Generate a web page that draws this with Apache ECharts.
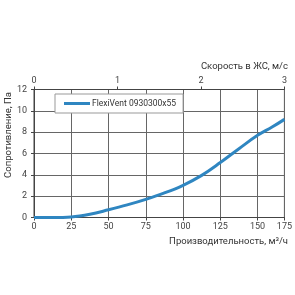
<!DOCTYPE html>
<html>
<head>
<meta charset="utf-8">
<script src="https://cdn.jsdelivr.net/npm/echarts@6/dist/echarts.min.js"></script>
<style>html,body{margin:0;padding:0;background:#fff}#c{width:295px;height:295px}</style>
</head>
<body>
<div id="c"></div>
<script>
// Flow axis (in plotted axis units) and pressure loss
var flow = [0, 12.5, 25, 37.5, 50, 62.5, 75, 87.5, 100, 112.5, 125, 137.5, 150, 160, 168];
var pressure = [0, 0, 0.05, 0.3, 0.72, 1.18, 1.7, 2.3, 3.02, 3.95, 5.15, 6.45, 7.7, 8.5, 9.2];
var seriesName = 'FlexiVent 0930300x55';
var flowTickLabels = ['0', '25', '50', '75', '100', '125', '150', '175'];
var speedTickLabels = ['0', '1', '2', '3'];
var pressureTickLabels = ['0', '2', '4', '6', '8', '10', '12'];
var flowAxisName = 'Производительность, м³/ч';
var speedAxisName = 'Скорость в ЖС, м/с';
var pressureAxisName = 'Сопротивление, Па';

var font = "Roboto, 'Open Sans', sans-serif";
var data = flow.map(function (f, i) { return [f, pressure[i]]; });
var chart = echarts.init(document.getElementById('c'), null, { renderer: 'canvas' });
chart.setOption({
  animation: false,
  backgroundColor: '#fff',
  grid: { left: 34, right: 9.5, top: 89.5, bottom: 77.5, show: true, borderColor: '#444', borderWidth: 1, containLabel: false },
  legend: {
    left: 55, top: 94,
    padding: [5, 7, 5, 9],
    backgroundColor: '#fff', borderColor: '#999', borderWidth: 1,
    itemWidth: 26, itemHeight: 3, itemGap: 2,
    icon: 'rect',
    textStyle: { fontFamily: font, fontSize: 8.5, color: '#333', padding: [0, 0, 0, -3] },
    data: [seriesName]
  },
  xAxis: [
    {
      type: 'value', position: 'bottom', min: 0, max: 168, interval: 25,
      axisLine: { lineStyle: { color: '#444', width: 1 } },
      axisTick: { show: true, inside: false, length: 3, lineStyle: { color: '#444' } },
      axisLabel: { fontFamily: font, fontSize: 9, color: '#444', margin: 5,
        formatter: function (v, i) { return flowTickLabels[i]; } },
      splitLine: { show: true, lineStyle: { color: '#666', width: 1 } }
    },
    {
      type: 'value', position: 'top', min: 0, max: 3, interval: 1,
      axisLine: { lineStyle: { color: '#444', width: 1 } },
      axisTick: { show: true, inside: false, length: 3, lineStyle: { color: '#444' } },
      axisLabel: { fontFamily: font, fontSize: 9, color: '#444', margin: 4,
        formatter: function (v, i) { return speedTickLabels[i]; } },
      splitLine: { show: false }
    }
  ],
  yAxis: {
    type: 'value', min: 0, max: 12, interval: 2,
    axisLine: { show: true, lineStyle: { color: '#444', width: 1 } },
    axisTick: { show: true, inside: false, length: 3, lineStyle: { color: '#444' } },
    axisLabel: { fontFamily: font, fontSize: 9, color: '#444', margin: 7,
      formatter: function (v, i) { return pressureTickLabels[i]; } },
    splitLine: { show: true, lineStyle: { color: '#666', width: 1 } }
  },
  graphic: [
    { type: 'text', right: 7, top: 62, style: { text: speedAxisName, fontFamily: font, fontSize: 9.5, fill: '#333' } },
    { type: 'text', right: 7, top: 237, style: { text: flowAxisName, fontFamily: font, fontSize: 9.5, fill: '#333' } },
    { type: 'text', x: 9, y: 92, rotation: Math.PI / 2,
      style: { text: pressureAxisName, fontFamily: font, fontSize: 9.5, fill: '#333', align: 'right', verticalAlign: 'middle' } }
  ],
  series: [{
    name: seriesName, type: 'line', xAxisIndex: 0, data: data,
    smooth: 0.4, symbol: 'none',
    lineStyle: { color: '#2f86c1', width: 3 },
    itemStyle: { color: '#2f86c1' }
  }]
});
</script>
</body>
</html>
